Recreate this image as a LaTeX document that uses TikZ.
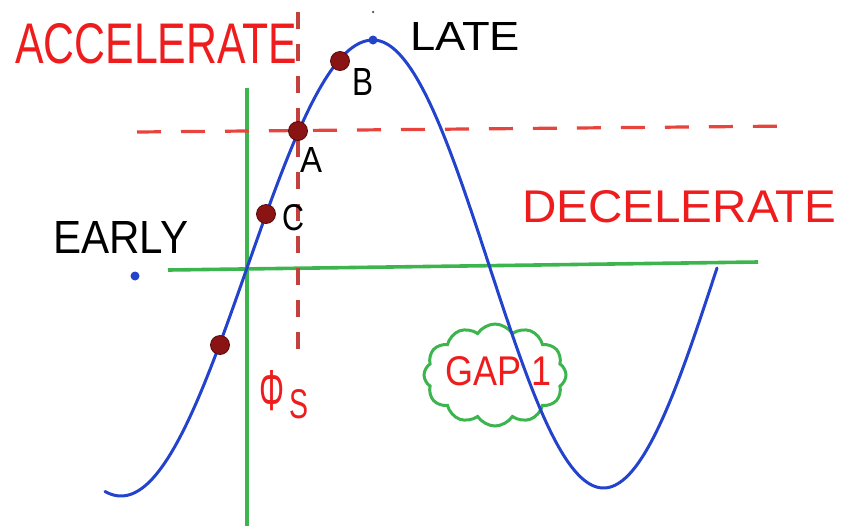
\documentclass[tikz,border=0pt]{standalone}
\usepackage{fontspec}
\setmainfont{Liberation Sans}
\newfontfamily\handfont{Liberation Sans}
\usetikzlibrary{shapes.symbols}
\definecolor{inkred}{HTML}{EE1C1C}
\definecolor{dashred}{HTML}{E6443C}
\definecolor{dashdark}{HTML}{C2413C}
\definecolor{inkgreen}{HTML}{3DB54E}
\definecolor{inkblue}{HTML}{2443CC}
\definecolor{dotred}{HTML}{8A1414}
\definecolor{dotedge}{HTML}{5A0A0A}
\newcommand{\hwtext}[3]{\resizebox{#1pt}{#2pt}{\handfont #3}}
\tikzset{
  axisline/.style={draw=inkgreen, line width=3.6pt},
  hdash/.style={draw=dashred, line width=3.2pt, dash pattern=on 24pt off 20pt},
  vdash/.style={draw=dashdark, line width=3.2pt, dash pattern=on 17pt off 15pt},
  curveline/.style={draw=inkblue, line width=3pt, line cap=round, line join=round},
  bigdot/.style={circle, fill=dotred, draw=dotedge, line width=0.8pt, minimum size=19pt, inner sep=0pt},
  bluedot/.style={circle, fill=inkblue, minimum size=9pt, inner sep=0pt},
  lbl/.style={inner sep=0pt, anchor=north west},
  cloudbox/.style={cloud, cloud puffs=12, cloud puff arc=115, cloud ignores aspect,
     draw=inkgreen, line width=3pt, minimum width=142pt, minimum height=102pt, inner sep=0pt}
}
\begin{document}
\begin{tikzpicture}[x=1pt,y=-1pt]
\useasboundingbox (0,0) rectangle (842,528);
% axes
\coordinate (hx0) at (168,270);
\coordinate (hx1) at (758,262);
\coordinate (vy0) at (247,88);
\coordinate (vy1) at (247,526);
\draw[axisline] (hx0) -- (hx1);
\draw[axisline] (vy0) -- (vy1);
% dashed reference lines
\coordinate (dh0) at (137,132);
\coordinate (dh1) at (796,126);
\coordinate (dv0) at (298,12);
\coordinate (dv1) at (298,362);
\draw[hdash] (dh0) -- (dh1);
\draw[vdash] (dv0) -- (dv1);
% cloud
\node[cloudbox] (gapcloud) at (495,375) {};
\node[lbl] (gap) at (445,356) {\textcolor{inkred}{\hwtext{106}{29}{GAP 1}}};
% curve
\draw[curveline]
  plot[domain=105:373, samples=90] (\x, {268 - 228*sin((\x-247)/126*90)})
  -- plot[domain=373:490, samples=50] (\x, {268 - 228*cos((\x-373)/117*90)})
  -- plot[domain=490:717, samples=90] (\x, {268 + 220*sin((\x-490)/227*180)});
% dots
\node[bigdot] (dlow) at (220,345) {};
\node[bigdot] (dC) at (266,214) {};
\node[bigdot] (dA) at (298,131) {};
\node[bigdot] (dB) at (340,61) {};
\node[bluedot] (peak) at (373,40) {};
\node[bluedot] (early) at (135,276) {};
\node[circle, fill=black!70, minimum size=2.5pt, inner sep=0pt] (tick) at (373,12) {};
% labels
\node[lbl] (acc) at (15,23) {\textcolor{inkred}{\hwtext{282}{40}{ACCELERATE}}};
\node[lbl] (dec) at (522,190) {\textcolor{inkred}{\hwtext{314}{32}{DECELERATE}}};
\node[lbl] (late) at (410,22) {\hwtext{110}{28}{LATE}};
\node[lbl] (earlyl) at (53,221) {\hwtext{135}{32}{EARLY}};
\node[lbl] (lB) at (352,68) {\hwtext{21}{27}{B}};
\node[lbl] (lA) at (300,147) {\hwtext{22}{25}{A}};
\node[lbl] (lC) at (282,204) {\hwtext{22}{26}{C}};
\node[lbl] (phi) at (259,370) {\textcolor{inkred}{\hwtext{25}{40}{Φ}}};
\node[lbl] (sub) at (289,389) {\textcolor{inkred}{\hwtext{19}{29}{S}}};
\end{tikzpicture}
\end{document}
